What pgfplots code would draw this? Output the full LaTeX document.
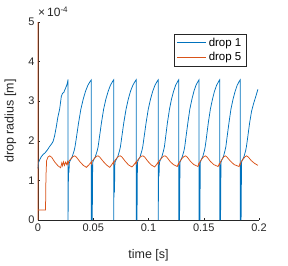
\documentclass[border=0pt]{standalone}
\usepackage{fontspec}
\setmainfont{Liberation Sans}
\usepackage{pgfplots}
\pgfplotsset{compat=1.18}
\definecolor{mblue}{rgb}{0,0.447,0.741}
\definecolor{morange}{rgb}{0.85,0.325,0.098}
\definecolor{axgray}{rgb}{0.15,0.15,0.15}
\begin{document}
\begin{tikzpicture}
\begin{axis}[
  scale only axis, width=221pt, height=198pt,
  xmin=0, xmax=0.2, ymin=0, ymax=5,
  axis x line*=bottom, axis y line*=left,
  axis line style={draw=axgray, line width=0.5pt},
  tick style={draw=axgray, line width=0.5pt},
  tick align=inside, major tick length=2.5pt,
  xtick={0,0.05,0.1,0.15,0.2},
  ytick={0,1,2,3,4,5},
  /pgf/number format/assume math mode=true,
  /pgf/number format/fixed, /pgf/number format/precision=2,
  ticklabel style={font=\fontsize{11}{13}\selectfont, text=axgray},
  xlabel={time [s]}, ylabel={drop radius [m]},
  label style={font=\fontsize{12.5}{14}\selectfont, text=axgray},
  xlabel style={at={(axis description cs:0.5,-0.18)}, anchor=center},
  ylabel style={at={(axis description cs:-0.125,0.5)}, anchor=center},
  legend style={at={(rel axis cs:0.944,0.939)}, anchor=north east, draw=axgray, fill=white,
    font=\fontsize{11.5}{13}\selectfont, text=black, inner xsep=3pt, inner ysep=1.5pt,
    cells={anchor=west}, row sep=1pt, line width=0.5pt},
  legend image code/.code={\draw[#1] (0pt,0pt) -- (29pt,0pt);},
  every axis plot/.append style={line width=0.75pt},
  clip=false,
]
\coordinate (ll) at (rel axis cs:0,0);
\coordinate (ur) at (rel axis cs:1,1);
\coordinate (ul) at (rel axis cs:0,1);
\addplot[mblue] coordinates {
(0,1.3)(0.0005,1.45)(0.0015,1.52)(0.003,1.6)(0.0045,1.65)(0.0065,1.7)(0.0085,1.77)(0.0106,1.86)(0.0125,1.93)(0.0136,1.98)(0.015,2.12)(0.0166,2.36)(0.018,2.6)(0.0196,2.8)(0.0211,3.12)(0.0222,3.2)(0.0233,3.22)(0.0245,3.3)(0.0257,3.38)(0.0265,3.45)(0.0272,3.55)
(0.0272,0)(0.0276,1.35)(0.0280,1.2)(0.0284,1.45)(0.0291,1.5)(0.0310,1.6)(0.0327,1.75)(0.0335,1.85)(0.0346,2.05)(0.0367,2.45)(0.0388,2.8)(0.0409,3.05)(0.0430,3.25)(0.0451,3.4)(0.0472,3.5)(0.0483,3.54)
(0.0483,0)(0.0487,1.4)(0.0491,0)(0.0495,1.45)(0.0501,1.5)(0.0519,1.6)(0.0536,1.75)(0.0544,1.85)(0.0554,2.05)(0.0574,2.45)(0.0594,2.8)(0.0614,3.05)(0.0635,3.25)(0.0655,3.4)(0.0675,3.5)(0.0685,3.54)
(0.0685,0)(0.0689,1.4)(0.0692,0.7)(0.0696,1.45)(0.0703,1.5)(0.0722,1.6)(0.0738,1.75)(0.0746,1.85)(0.0756,2.05)(0.0776,2.45)(0.0797,2.8)(0.0817,3.05)(0.0837,3.25)(0.0858,3.4)(0.0878,3.5)(0.0888,3.54)
(0.0888,0)(0.0892,1.4)(0.0896,0)(0.0900,1.45)(0.0906,1.5)(0.0924,1.6)(0.0940,1.75)(0.0948,1.85)(0.0958,2.05)(0.0978,2.45)(0.0998,2.8)(0.1018,3.05)(0.1038,3.25)(0.1058,3.4)(0.1078,3.5)(0.1088,3.54)
(0.1088,0)(0.1092,1.4)(0.1095,1.1)(0.1099,1.45)(0.1105,1.5)(0.1121,1.6)(0.1136,1.75)(0.1144,1.85)(0.1153,2.05)(0.1171,2.45)(0.1190,2.8)(0.1208,3.05)(0.1227,3.25)(0.1245,3.4)(0.1264,3.5)(0.1273,3.54)
(0.1273,0)(0.1277,1.4)(0.1281,0)(0.1285,1.45)(0.1290,1.5)(0.1306,1.6)(0.1321,1.75)(0.1328,1.85)(0.1337,2.05)(0.1356,2.45)(0.1374,2.8)(0.1393,3.05)(0.1411,3.25)(0.1429,3.4)(0.1448,3.5)(0.1457,3.54)
(0.1457,0)(0.1461,1.4)(0.1465,0)(0.1469,1.45)(0.1474,1.5)(0.1491,1.6)(0.1506,1.75)(0.1513,1.85)(0.1523,2.05)(0.1541,2.45)(0.1560,2.8)(0.1579,3.05)(0.1597,3.25)(0.1616,3.4)(0.1635,3.5)(0.1644,3.54)
(0.1644,0)(0.1648,1.4)(0.1652,0)(0.1656,1.45)(0.1661,1.5)(0.1678,1.6)(0.1692,1.75)(0.1700,1.85)(0.1709,2.05)(0.1728,2.45)(0.1746,2.8)(0.1765,3.05)(0.1784,3.25)(0.1802,3.4)(0.1821,3.5)(0.1830,3.54)
(0.1830,0)(0.1834,1.4)(0.1838,0)(0.1842,1.45)(0.1847,1.5)(0.1864,1.6)(0.1879,1.75)(0.1886,1.85)(0.1896,2.05)(0.1915,2.45)(0.1933,2.75)(0.1952,2.95)(0.1971,3.12)(0.1990,3.3)
};
\addlegendentry{drop 1}
\addplot[morange] coordinates {
(0,0)(0,5)(0,0.25)(0.0068,0.25)(0.0072,1.1)(0.0078,1.5)(0.0090,1.59)(0.0106,1.62)(0.0125,1.58)(0.0150,1.47)(0.0180,1.37)(0.0205,1.32)(0.0215,1.44)(0.0222,1.37)(0.0230,1.47)(0.0240,1.38)(0.0250,1.46)(0.0260,1.40)(0.0268,1.47)(0.0272,1.41)(0.0278,1.48)(0.0300,1.55)(0.0317,1.60)(0.0332,1.62)(0.0347,1.59)(0.0380,1.47)(0.0410,1.38)(0.0438,1.33)(0.0460,1.39)(0.0480,1.46)(0.0483,1.42)(0.0488,1.48)(0.0515,1.57)(0.0530,1.61)(0.0543,1.62)(0.0558,1.59)(0.0590,1.48)(0.0620,1.39)(0.0649,1.33)(0.0668,1.40)(0.0682,1.46)(0.0685,1.42)(0.0690,1.48)(0.0715,1.57)(0.0730,1.61)(0.0745,1.62)(0.0760,1.59)(0.0790,1.48)(0.0820,1.39)(0.0850,1.34)(0.0870,1.40)(0.0885,1.46)(0.0888,1.42)(0.0893,1.48)(0.0918,1.57)(0.0935,1.61)(0.0950,1.62)(0.0965,1.59)(0.0995,1.48)(0.1025,1.39)(0.1056,1.34)(0.1075,1.41)(0.1085,1.45)(0.1088,1.42)(0.1093,1.48)(0.1120,1.57)(0.1135,1.61)(0.1150,1.62)(0.1165,1.59)(0.1195,1.48)(0.1225,1.40)(0.1260,1.35)(0.1270,1.42)(0.1273,1.40)(0.1280,1.46)(0.1305,1.56)(0.1320,1.60)(0.1335,1.62)(0.1350,1.59)(0.1380,1.48)(0.1410,1.40)(0.1448,1.35)(0.1454,1.42)(0.1457,1.40)(0.1465,1.47)(0.1488,1.56)(0.1502,1.60)(0.1515,1.62)(0.1530,1.59)(0.1560,1.48)(0.1590,1.40)(0.1630,1.35)(0.1640,1.42)(0.1644,1.40)(0.1652,1.47)(0.1670,1.55)(0.1683,1.60)(0.1695,1.62)(0.1710,1.59)(0.1740,1.49)(0.1775,1.40)(0.1820,1.35)(0.1827,1.42)(0.1830,1.40)(0.1838,1.47)(0.1860,1.55)(0.1875,1.60)(0.1888,1.62)(0.1903,1.59)(0.1930,1.50)(0.1960,1.43)(0.1990,1.38)
};
\addlegendentry{drop 5}
\end{axis}
\node[anchor=base west, inner sep=0pt, text=axgray, font=\fontsize{12}{14}\selectfont] at ([yshift=5pt]ul) {×\,10\textsuperscript{-4}};
\pgfresetboundingbox
\path ([xshift=-38pt,yshift=-45pt]ll) rectangle ([xshift=29pt,yshift=22pt]ur);
\end{tikzpicture}
\end{document}
